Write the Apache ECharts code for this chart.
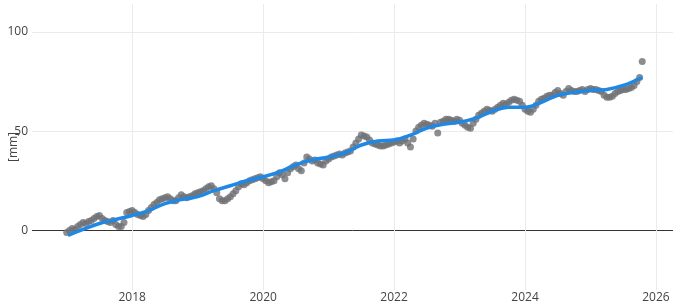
<!DOCTYPE html>
<html>
<head>
<meta charset="utf-8">
<script src="https://cdn.jsdelivr.net/npm/echarts@6/dist/echarts.min.js"></script>
<style>
    html, body { margin: 0; padding: 0; background: #fff; }
    #chart { width: 673px; height: 307px; }
</style>
</head>
<body>
<div id="chart"></div>
<script>
    // displacement readings [mm], twice a month, first one at startYear
    var startYear = 2017;
    var stepsPerYear = 24;
    var dispValues = [
        -1, 0, 1, 0.5, 2, 3, 4, 3.5, 4.5, 5, 6, 7, 7.5, 6, 5, 4.5, 4, 5, 3, 2, 2, 4, 9, 9.5,
        10, 9, 8, 7.5, 7, 8, 10, 11.5, 13, 14, 15.5, 16, 16.5, 17, 16, 15, 15, 16.5, 18, 17, 16.5, 17, 17.5, 18.5,
        19, 19.5, 20, 21, 22, 22.5, 21, 19, 16, 15, 15, 16, 17, 18.5, 20, 22, 23.5, 23, 24, 25, 25.5, 26, 26.5, 27,
        26, 25, 24, 24.5, 25, 27, 29, 28, 26, 29, 31, 32, 33, 31, 30, 34, 37, 36, 35, 35.5, 34, 33.5, 33, 35,
        36, 37, 37.5, 38, 38.5, 38, 39, 39.5, 40, 42, 44, 46, 48, 47.5, 47, 45.5, 44, 43.5, 43, 42.5, 42.5, 43, 43.5, 44,
        44.5, 45, 44, 45, 46, 44, 42, 46, 50, 52, 53, 54, 53.5, 53, 52.5, 54, 49, 54.5, 55, 56, 56, 55.5, 55, 56,
        55.5, 54, 53, 52, 51.5, 54, 56, 58, 59, 60, 61, 60.5, 60, 61, 62, 63, 64, 63.5, 64.5, 65.5, 66, 65.5, 65, 63,
        61, 60, 59.5, 61, 63, 65, 66, 66.5, 67.5, 68, 68, 69.5, 70.5, 69, 68, 70, 71.5, 70.5, 70, 70, 70.5, 71, 70, 71,
        71.5, 71, 71, 70.5, 70, 68, 67, 67, 67.5, 69, 70, 70.5, 71, 71, 71.5, 72, 73, 75, 77
    ];
    var lastTime = 2025.79;
    var lastValue = 85;

    // smoothed trend
    var trendTimes = [2017.02, 2017.25, 2017.5, 2017.75, 2018, 2018.25, 2018.5, 2018.75,
        2019, 2019.25, 2019.5, 2019.75, 2020, 2020.25, 2020.5, 2020.75,
        2021, 2021.25, 2021.5, 2021.75, 2022, 2022.25, 2022.5, 2022.75,
        2023, 2023.25, 2023.5, 2023.75, 2024, 2024.25, 2024.5, 2024.75,
        2025, 2025.25, 2025.5, 2025.79];
    var trendValues = [-2.5, 0.5, 3.5, 5.5, 7.5, 10, 13.5, 15.5,
        17, 20, 22.5, 25, 27, 29.5, 33, 35.5,
        37, 39, 43, 45, 45.5, 48, 51.5, 53.5,
        54.5, 56.5, 60, 62, 62, 64.5, 68, 69.5,
        70.5, 71, 73, 77];

    var yearTicks = [2018, 2020, 2022, 2024, 2026];
    var valueTicks = [0, 50, 100];

    var points = dispValues.map(function (v, i) {
        return [startYear + i / stepsPerYear, v];
    });
    points.push([lastTime, lastValue]);

    var trend = trendTimes.map(function (t, i) {
        return [t, trendValues[i]];
    });

    var chart = echarts.init(document.getElementById('chart'));
    chart.setOption({
        animation: false,
        grid: { left: 32, right: 0, top: 4, bottom: 17, containLabel: false, outerBoundsMode: 'none' },
        xAxis: {
            type: 'value',
            min: 2016.47,
            max: 2026.26,
            axisLine: { show: false },
            axisTick: { show: false, customValues: yearTicks },
            axisLabel: {
                customValues: yearTicks,
                margin: 2,
                color: '#444',
                fontFamily: 'Open Sans',
                fontSize: 12,
                formatter: function (v) { return String(v); }
            },
            splitLine: { show: true, lineStyle: { color: '#ebebeb', width: 1 } }
        },
        yAxis: {
            type: 'value',
            min: -30,
            max: 114,
            name: '[mm]',
            nameLocation: 'middle',
            nameGap: 12,
            nameMoveOverlap: false,
            nameTextStyle: { color: '#444', fontFamily: 'Open Sans', fontSize: 12 },
            axisLine: { show: false },
            axisTick: { show: false, customValues: valueTicks },
            axisLabel: {
                customValues: valueTicks,
                margin: 4,
                color: '#444',
                fontFamily: 'Open Sans',
                fontSize: 12
            },
            splitLine: {
                show: true,
                lineStyle: { color: ['#333', '#ebebeb', '#ebebeb'], width: 1 }
            }
        },
        series: [
            {
                type: 'scatter',
                data: points,
                symbolSize: 7,
                itemStyle: { color: '#6f7074' },
                z: 2
            },
            {
                type: 'line',
                data: trend,
                smooth: 0.4,
                showSymbol: false,
                lineStyle: { color: '#1f88e5', width: 3.5 },
                z: 3
            }
        ]
    });
</script>
</body>
</html>
